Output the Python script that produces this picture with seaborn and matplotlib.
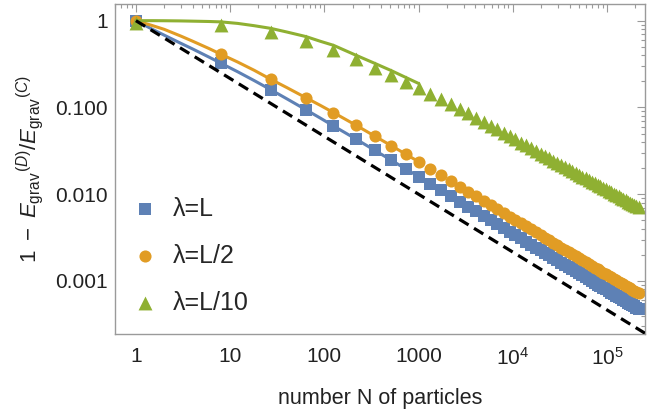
import matplotlib
matplotlib.use("Agg")
import matplotlib.pyplot as plt
import matplotlib.ticker as mticker
import seaborn as sns

# number of particles N = n^3, n = 1..60
N = [1, 8, 27, 64, 125, 216, 343, 512, 729, 1000,
     1331, 1728, 2197, 2744, 3375, 4096, 4913, 5832, 6859, 8000,
     9261, 10648, 12167, 13824, 15625, 17576, 19683, 21952, 24389, 27000,
     29791, 32768, 35937, 39304, 42875, 46656, 50653, 54872, 59319, 64000,
     68921, 74088, 79507, 85184, 91125, 97336, 103823, 110592, 117649, 125000,
     132651, 140608, 148877, 157464, 166375, 175616, 185193, 195112, 205379, 216000]

lam_L = [1.00, 0.323, 0.160, 0.0938, 0.0612, 0.0433, 0.0320, 0.0247, 0.0196, 0.0160,
         0.01326, 0.01118, 0.00953, 0.00824, 0.00720, 0.00633, 0.00562, 0.00502, 0.00452, 0.00408,
         0.00371, 0.00338, 0.00310, 0.00285, 0.00263, 0.00243, 0.00226, 0.00210, 0.00197, 0.00184,
         0.00173, 0.00162, 0.00153, 0.00144, 0.00136, 0.00129, 0.00122, 0.00116, 0.00110, 0.00105,
         0.000999, 0.000955, 0.000911, 0.000873, 0.000835, 0.000799, 0.000767, 0.000736, 0.000708, 0.000680,
         0.000654, 0.000631, 0.000607, 0.000586, 0.000565, 0.000545, 0.000528, 0.000510, 0.000494, 0.000478]

lam_L2 = [1.00, 0.410, 0.211, 0.129, 0.0872, 0.0625, 0.0467, 0.0363, 0.0290, 0.0237,
          0.01967, 0.01660, 0.01420, 0.01227, 0.01071, 0.00943, 0.00837, 0.00748, 0.00673, 0.00609,
          0.00553, 0.00505, 0.00463, 0.00426, 0.00393, 0.00364, 0.00338, 0.00315, 0.00294, 0.00275,
          0.00258, 0.00242, 0.00228, 0.00215, 0.00204, 0.00193, 0.00183, 0.00174, 0.00165, 0.00157,
          0.00150, 0.00143, 0.00137, 0.00131, 0.00125, 0.00120, 0.00115, 0.00111, 0.00106, 0.00102,
          0.000984, 0.000948, 0.000914, 0.000882, 0.000851, 0.000822, 0.000795, 0.000769, 0.000744, 0.000721]

lam_L10 = [0.933, 0.892, 0.733, 0.588, 0.460, 0.358, 0.288, 0.238, 0.199, 0.169,
           0.1446, 0.125, 0.1095, 0.0964, 0.0853, 0.0762, 0.0685, 0.0617, 0.0560, 0.0510,
           0.0466, 0.0428, 0.0394, 0.0365, 0.0338, 0.0315, 0.0294, 0.0276, 0.0258, 0.0242,
           0.02285, 0.0216, 0.02046, 0.01941, 0.01845, 0.01756, 0.01674, 0.01598, 0.01528, 0.01463,
           0.01399, 0.01340, 0.01285, 0.01233, 0.01185, 0.01139, 0.01096, 0.01055, 0.01016, 0.00980,
           0.00945, 0.00912, 0.00881, 0.00851, 0.00823, 0.00797, 0.00771, 0.00747, 0.00725, 0.00703]

# continuous curves (drawn up to N = 1000)
N_line = [1, 1.5, 2, 3, 4, 6, 8, 12, 18, 27, 40, 64, 90, 125, 216, 343, 512, 729, 1000]
line_L = [1.0, 0.794, 0.680, 0.548, 0.472, 0.379, 0.323, 0.258, 0.204, 0.160,
          0.1257, 0.0938, 0.0757, 0.0612, 0.0433, 0.0320, 0.0247, 0.0196, 0.0160]
line_L2 = [1.0, 0.877, 0.794, 0.664, 0.580, 0.476, 0.410, 0.334, 0.268, 0.211,
           0.1693, 0.129, 0.1061, 0.0872, 0.0625, 0.0467, 0.0363, 0.0290, 0.0237]
line_L10 = [1.0, 1.0, 0.998, 0.993, 0.987, 0.978, 0.968, 0.93, 0.875, 0.815,
            0.74, 0.655, 0.58, 0.52, 0.40, 0.322, 0.266, 0.222, 0.189]

# reference N^(-2/3)
N_ref = [1, 300000]
ref = [1.0, 0.000223]

labels = ["λ=L", "λ=L/2", "λ=L/10"]
colors = ["#5E81B5", "#E19C24", "#8FB032"]

xticks = [1, 10, 100, 1000, 1e4, 1e5]
xticklabels = ["1", "10", "100", "1000", r"$10^{4}$", r"$10^{5}$"]
yticks = [0.001, 0.01, 0.1, 1]
yticklabels = ["0.001", "0.010", "0.100", "1"]

sns.set_theme(style="white")
plt.rcParams['font.family'] = ['Liberation Sans', 'DejaVu Sans']
plt.rcParams['mathtext.fontset'] = 'custom'
plt.rcParams['mathtext.rm'] = 'Liberation Sans'
plt.rcParams['mathtext.it'] = 'Liberation Sans:italic'
plt.rcParams['mathtext.bf'] = 'Liberation Sans:bold'

fig = plt.figure(figsize=(6.47, 4.11), dpi=100)
ax = fig.add_axes([115 / 647, 1 - 334 / 411, 530 / 647, 330 / 411])

sns.scatterplot(x=N, y=lam_L, marker='s', s=82, color=colors[0], linewidth=0,
                label=labels[0], ax=ax, zorder=2)
sns.scatterplot(x=N, y=lam_L2, marker='o', s=76, color=colors[1], linewidth=0,
                label=labels[1], ax=ax, zorder=2)
sns.scatterplot(x=N, y=lam_L10, marker='^', s=100, color=colors[2], linewidth=0,
                label=labels[2], ax=ax, zorder=2)

for yy, c in zip([line_L, line_L2, line_L10], colors):
    sns.lineplot(x=N_line, y=yy, color=c, lw=2.2, sort=False, estimator=None,
                 legend=False, ax=ax, zorder=3)

sns.lineplot(x=N_ref, y=ref, color='black', lw=2.3, sort=False, estimator=None,
             legend=False, ax=ax, zorder=4)
ax.lines[-1].set_dashes((3.4, 2.0))

ax.set_xscale('log')
ax.set_yscale('log')
ax.set_xlim(0.6, 2.53e5)
ax.set_ylim(2.45e-4, 1.556)

ax.xaxis.set_major_locator(mticker.FixedLocator(xticks))
ax.xaxis.set_major_formatter(mticker.FixedFormatter(xticklabels))
ax.xaxis.set_minor_locator(mticker.LogLocator(base=10, subs=range(2, 10), numticks=20))
ax.xaxis.set_minor_formatter(mticker.NullFormatter())
ax.yaxis.set_major_locator(mticker.FixedLocator(yticks))
ax.yaxis.set_major_formatter(mticker.FixedFormatter(yticklabels))
ax.yaxis.set_minor_locator(mticker.LogLocator(base=10, subs=range(2, 10), numticks=20))
ax.yaxis.set_minor_formatter(mticker.NullFormatter())

frame = '#9a9a9a'
for sp in ax.spines.values():
    sp.set_color(frame)
    sp.set_linewidth(1.0)
ax.tick_params(which='both', direction='in', top=True, right=True, color=frame,
               width=0.8, labelcolor='#222222', labelsize=15)
ax.tick_params(which='major', length=6)
ax.tick_params(which='minor', length=3)
ax.tick_params(axis='x', which='major', pad=9)
ax.tick_params(axis='y', which='major', pad=5)

ax.set_xlabel("number N of particles", fontsize=15.5, color='#222222', labelpad=14)
ax.set_ylabel(r"$1\ -\ E_{\mathrm{grav}}{}^{(D)}/E_{\mathrm{grav}}{}^{(C)}$",
              fontsize=16, color='#222222', labelpad=7)

ax.legend(loc='lower left', bbox_to_anchor=(0.0, 0.005), frameon=False,
          fontsize=18, labelspacing=0.92, handlelength=1.0, handletextpad=0.6,
          borderaxespad=0.3, markerscale=1.0)

fig.savefig("out.png", dpi=100)
